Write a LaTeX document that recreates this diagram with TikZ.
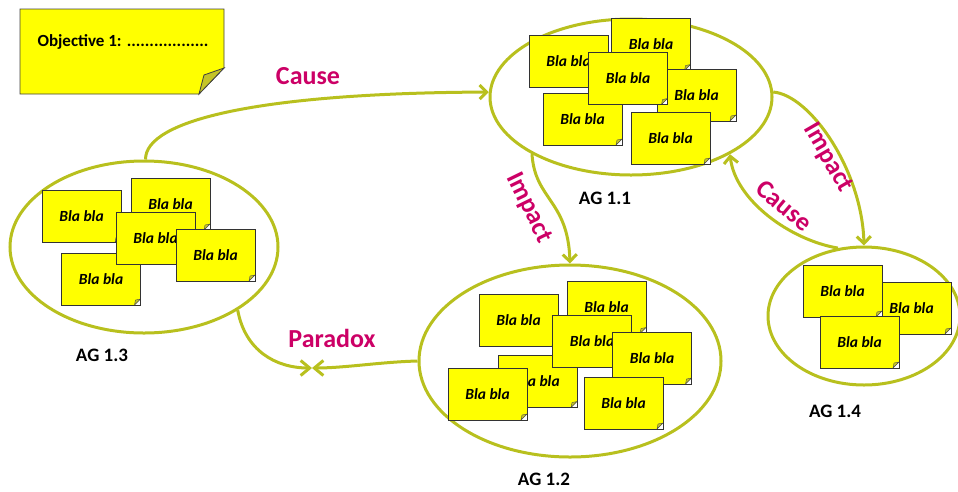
\documentclass[tikz,border=0pt]{standalone}
\usepackage{fontspec}
\setmainfont{Carlito}
\usetikzlibrary{shapes.geometric,arrows.meta}
\definecolor{lineol}{RGB}{184,192,30}
\definecolor{magent}{RGB}{204,0,102}
\definecolor{noteyellow}{RGB}{255,255,0}
\definecolor{foldc}{RGB}{196,196,40}
\tikzset{
  group/.style={ellipse, draw=lineol, line width=3pt, inner sep=0pt},
  note/.style={rectangle, fill=noteyellow, draw=black!80, line width=0.8pt,
    minimum width=79pt, minimum height=52pt, inner sep=0pt,
    font=\fontsize{15.5}{17}\selectfont\bfseries\itshape,
    path picture={
      \fill[white] ([xshift=-6pt]path picture bounding box.south east) -- (path picture bounding box.south east) -- ([yshift=6pt]path picture bounding box.south east) -- cycle;
      \filldraw[fill=foldc, draw=black!70, line width=0.4pt] ([xshift=-6pt]path picture bounding box.south east) -- ([yshift=6pt]path picture bounding box.south east) -- ([xshift=-5pt,yshift=5pt]path picture bounding box.south east) -- cycle;}},
  conn/.style={draw=lineol, line width=3pt},
  tip/.style={-{Straight Barb[length=7pt,width=14pt]}},
  xtip/.style={-{Straight Barb[length=9pt,width=15pt]}},
  lab/.style={text=magent, font=\fontsize{26}{30}\selectfont\bfseries},
  agl/.style={font=\fontsize{19}{22}\selectfont\bfseries, text=black},
}
\begin{document}
\begin{tikzpicture}[x=1pt,y=-1pt]
\useasboundingbox (0,0) rectangle (958,491);
% objective note
\filldraw[fill=noteyellow, draw=black!75, line width=0.8pt] (20,9) -- (224,9) -- (224,68) -- (199,94) -- (20,94) -- cycle;
\filldraw[fill=foldc, draw=black!75, line width=0.8pt] (199,94) -- (224,68) -- (204,75) -- cycle;
\node[anchor=west, font=\fontsize{17}{19}\selectfont\bfseries] (obj) at (34,42) {Objective 1: ..................};

% groups
\node[group, minimum width=282pt, minimum height=156pt] (ag11) at (631,97) {};
\node[group, minimum width=268pt, minimum height=172pt] (ag13) at (144,247) {};
\node[group, minimum width=302pt, minimum height=192pt] (ag12) at (570,361) {};
\node[group, minimum width=192pt, minimum height=138pt] (ag14) at (864,316) {};

% AG 1.1 notes
\node[note] (n11a) at (568.5,61) {Bla bla};
\node[note] (n11b) at (651,44.5) {Bla bla};
\node[note] (n11c) at (696.5,95) {Bla bla};
\node[note] (n11d) at (582.5,119) {Bla bla};
\node[note] (n11f) at (670.5,138) {Bla bla};
\node[note] (n11e) at (628,78.5) {Bla bla};

% AG 1.3 notes
\node[note] (n13a) at (81.5,216.5) {Bla bla};
\node[note] (n13b) at (170.5,204) {Bla bla};
\node[note] (n13c) at (101,279) {Bla bla};
\node[note] (n13d) at (155.5,238) {Bla bla};
\node[note] (n13e) at (215.5,255) {Bla bla};

% AG 1.2 notes
\node[note] (n12a) at (518.5,320) {Bla bla};
\node[note] (n12b) at (606.5,307.5) {Bla bla};
\node[note] (n12c) at (537.5,381.5) {Bla bla};
\node[note] (n12d) at (592,341) {Bla bla};
\node[note] (n12e) at (652,358) {Bla bla};
\node[note] (n12f) at (487.5,394) {Bla bla};
\node[note] (n12g) at (623.5,403) {Bla bla};

% AG 1.4 notes
\node[note] (n14b) at (911.5,308) {Bla bla};
\node[note] (n14a) at (842.5,291) {Bla bla};
\node[note] (n14c) at (859.5,342) {Bla bla};

% group labels
\node[agl] (l11) at (605,198) {AG 1.1};
\node[agl] (l13) at (102,355) {AG 1.3};
\node[agl] (l12) at (544,479) {AG 1.2};
\node[agl] (l14) at (835,411) {AG 1.4};

% connectors
\draw[conn,tip] (ag13.89) .. controls (145,120) and (260,93) .. (ag11.178);
\draw[conn,tip] (ag11.210) .. controls (535,200) and (568,200) .. (ag12.90);
\draw[conn,tip] (ag11.2) .. controls (810,95) and (862,170) .. (ag14.90);
\draw[conn,tip] (ag14.111) .. controls (790,240) and (735,200) .. (ag11.330);
\coordinate (px) at (312,368);
\draw[conn,xtip] (ag13.326) .. controls (245,350) and (275,368) .. (px);
\draw[conn,xtip] (ag12.180) .. controls (380,362) and (345,368) .. (px);

% connector labels
\node[lab] (c1) at (308,76) {Cause};
\node[lab, rotate=-64] (i1) at (529,208) {Impact};
\node[lab, rotate=-60] (i2) at (828,158) {Impact};
\node[lab, rotate=-40] (c2) at (784,206) {Cause};
\node[lab] (p1) at (332,338) {Paradox};
\end{tikzpicture}
\end{document}
